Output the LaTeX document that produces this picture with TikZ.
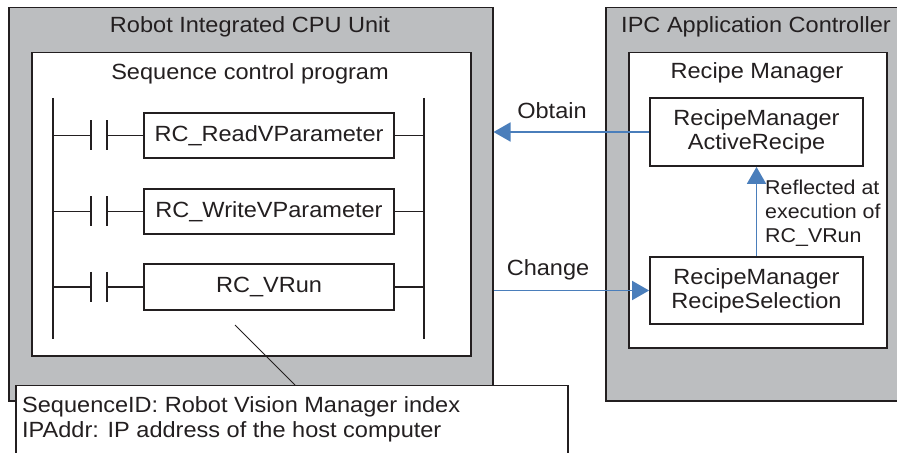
\documentclass[tikz,border=0pt]{standalone}
\usepackage{fontspec}
\setmainfont{Liberation Sans}[FakeStretch=1.07]
\usetikzlibrary{arrows.meta}
\definecolor{boxgray}{HTML}{BCBEC0}
\definecolor{arrowblue}{HTML}{4A7EBB}
\definecolor{txt}{HTML}{231F20}
\begin{document}
\begin{tikzpicture}[x=1bp,y=-1bp,
  every node/.style={text=txt},
  panel/.style={draw=txt, fill=boxgray, line width=1.5bp, rectangle, inner sep=0pt, anchor=north west},
  area/.style={draw=txt, fill=white, line width=1.5bp, rectangle, inner sep=0pt, anchor=north west},
  fbox/.style={draw=txt, fill=white, line width=1.8bp, rectangle, inner sep=0pt, font=\fontsize{22bp}{24bp}\selectfont},
  lbl/.style={inner sep=0pt, font=\fontsize{22bp}{24bp}\selectfont},
  rail/.style={draw=txt, line width=2.2bp},
  wire/.style={draw=txt, line width=1.8bp},
  flow/.style={draw=arrowblue, line width=1.8bp, -{Triangle[length=17bp,width=19bp]}},
  leader/.style={draw=txt, line width=0.9bp}
]
\useasboundingbox (0,0) rectangle (897,453);
\clip (0,0) rectangle (897,453);

% left unit
\node[panel, minimum width=484bp, minimum height=393bp] (cpu) at (8,7) {};
\node[lbl] (cputitle) at (250,27) {Robot Integrated CPU Unit};
\node[area, minimum width=439bp, minimum height=303bp] (seq) at (31,52) {};
\node[lbl] (seqtitle) at (250,74) {Sequence control program};

% ladder rails
\draw[rail] (53,98) -- (53,339);
\draw[rail] (424,98) -- (424,339);

% rungs
\node[fbox, minimum width=250bp, minimum height=45bp] (read) at (269,135.5) {RC\_ReadVParameter};
\node[fbox, minimum width=250bp, minimum height=45bp] (write) at (269,211.5) {RC\_WriteVParameter};
\node[fbox, minimum width=250bp, minimum height=46bp] (vrun) at (269,287) {RC\_VRun};

\foreach \n/\y in {read/135.5, write/211.5, vrun/287}{
  \draw[wire] (53,\y) -- (91,\y);
  \draw[wire] (91,\y-15) -- (91,\y+15);
  \draw[wire] (107,\y-15) -- (107,\y+15);
  \draw[wire] (107,\y) -- (\n.west);
  \draw[wire] (\n.east) -- (424,\y);
}

% right controller
\node[panel, minimum width=300bp, minimum height=393bp] (ipc) at (605,7) {};
\node[lbl] (ipctitle) at (756,27) {IPC Application Controller};
\node[area, minimum width=258bp, minimum height=295bp] (rm) at (628,52) {};
\node[lbl] (rmtitle) at (757,73) {Recipe Manager};
\node[fbox, minimum width=213bp, minimum height=68bp, align=center] (active) at (756.5,132) {RecipeManager\\ActiveRecipe};
\node[fbox, minimum width=213bp, minimum height=67bp, align=center] (sel) at (756.5,290.5) {RecipeManager\\RecipeSelection};

% arrows
\draw[flow] (active.west) -- (cpu.east |- active.west);
\draw[flow] (cpu.east |- sel.west) -- (sel.west);
\draw[flow] (sel.north) -- (active.south);
\node[lbl] (obtain) at (552,111) {Obtain};
\node[lbl] (change) at (548,270) {Change};
\node[lbl, anchor=west, align=left, font=\fontsize{20bp}{24bp}\selectfont] (refl) at (765,213) {Reflected at\\execution of\\RC\_VRun};

% callout
\node[area, minimum width=552bp, minimum height=70bp] (note) at (15,385) {};
\node[lbl, anchor=west, align=left, font=\fontsize{22bp}{25bp}\selectfont] (notetext) at (22,419.5) {SequenceID: Robot Vision Manager index\\IPAddr: IP address of the host computer};
\coordinate (leadstart) at (235,325);
\coordinate (leadend) at (295,385);
\draw[leader] (leadstart) -- (leadend);
\end{tikzpicture}
\end{document}
